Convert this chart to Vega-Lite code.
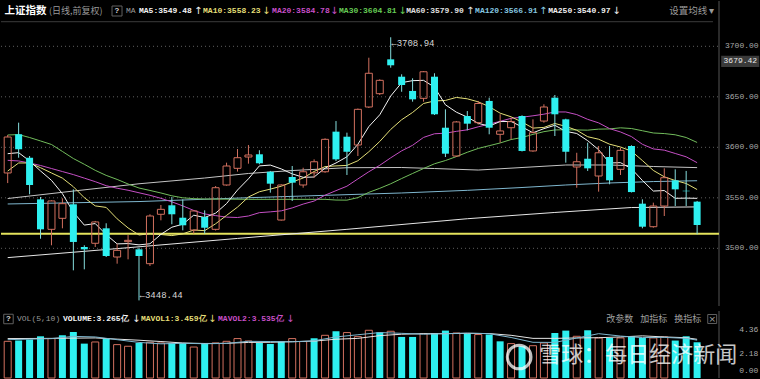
{
"$schema": "https://vega.github.io/schema/vega-lite/v6.json",
"background": "#000000",
"padding": 0,
"spacing": 5,
"bounds": "flush",
"config": {"view": {"stroke": null}, "scale": {"continuousPadding": 0}},
"datasets": {
"k": [
{"i":0,"o":3574.6,"h":3612.2,"l":3564.6,"c":3610.2,"v":3.35,"vd":"up"},
{"i":1,"o":3612.9,"h":3624.4,"l":3589.7,"c":3598.0,"v":3.42,"vd":"down"},
{"i":2,"o":3589.7,"h":3591.4,"l":3553.5,"c":3562.7,"v":3.51,"vd":"down"},
{"i":3,"o":3548.5,"h":3550.8,"l":3509.5,"c":3518.8,"v":3.81,"vd":"down"},
{"i":4,"o":3518.8,"h":3547.5,"l":3503.0,"c":3546.9,"v":3.60,"vd":"up"},
{"i":5,"o":3529.7,"h":3549.5,"l":3519.8,"c":3544.2,"v":3.90,"vd":"down"},
{"i":6,"o":3543.6,"h":3558.4,"l":3478.2,"c":3506.3,"v":4.20,"vd":"down"},
{"i":7,"o":3501.3,"h":3503.0,"l":3479.2,"c":3499.0,"v":3.14,"vd":"down"},
{"i":8,"o":3505.0,"h":3527.1,"l":3501.3,"c":3526.1,"v":3.29,"vd":"up"},
{"i":9,"o":3519.8,"h":3524.8,"l":3491.4,"c":3492.4,"v":3.57,"vd":"down"},
{"i":10,"o":3491.4,"h":3504.6,"l":3484.8,"c":3498.0,"v":3.05,"vd":"up"},
{"i":11,"o":3506.6,"h":3513.2,"l":3489.1,"c":3507.9,"v":2.90,"vd":"up"},
{"i":12,"o":3499.0,"h":3500.6,"l":3448.44,"c":3492.4,"v":3.20,"vd":"down"},
{"i":13,"o":3484.8,"h":3533.7,"l":3482.5,"c":3532.0,"v":3.26,"vd":"up"},
{"i":14,"o":3533.7,"h":3542.9,"l":3527.7,"c":3538.6,"v":3.20,"vd":"up"},
{"i":15,"o":3542.6,"h":3550.8,"l":3523.8,"c":3533.7,"v":3.20,"vd":"down"},
{"i":16,"o":3530.3,"h":3548.5,"l":3517.8,"c":3522.8,"v":3.20,"vd":"down"},
{"i":17,"o":3518.1,"h":3537.6,"l":3514.5,"c":3537.0,"v":2.83,"vd":"up"},
{"i":18,"o":3531.0,"h":3537.6,"l":3514.5,"c":3520.4,"v":3.20,"vd":"down"},
{"i":19,"o":3518.8,"h":3561.7,"l":3517.6,"c":3560.0,"v":3.20,"vd":"up"},
{"i":20,"o":3562.7,"h":3584.8,"l":3562.0,"c":3581.5,"v":3.35,"vd":"up"},
{"i":21,"o":3579.2,"h":3598.3,"l":3576.0,"c":3589.7,"v":3.60,"vd":"up"},
{"i":22,"o":3590.4,"h":3602.3,"l":3583.8,"c":3592.4,"v":3.38,"vd":"up"},
{"i":23,"o":3593.1,"h":3597.1,"l":3583.2,"c":3584.2,"v":3.20,"vd":"down"},
{"i":24,"o":3575.8,"h":3576.6,"l":3555.1,"c":3564.0,"v":3.11,"vd":"down"},
{"i":25,"o":3528.0,"h":3563.4,"l":3527.5,"c":3562.7,"v":3.35,"vd":"down"},
{"i":26,"o":3570.6,"h":3581.5,"l":3546.9,"c":3565.0,"v":3.60,"vd":"up"},
{"i":27,"o":3562.7,"h":3579.8,"l":3560.0,"c":3575.8,"v":3.33,"vd":"up"},
{"i":28,"o":3574.8,"h":3588.1,"l":3569.9,"c":3585.7,"v":3.63,"vd":"down"},
{"i":29,"o":3575.8,"h":3608.9,"l":3574.8,"c":3607.9,"v":3.90,"vd":"up"},
{"i":30,"o":3615.5,"h":3626.0,"l":3586.4,"c":3588.1,"v":4.27,"vd":"down"},
{"i":31,"o":3610.5,"h":3614.5,"l":3572.6,"c":3595.6,"v":4.15,"vd":"up"},
{"i":32,"o":3602.3,"h":3638.4,"l":3591.4,"c":3637.6,"v":3.78,"vd":"up"},
{"i":33,"o":3639.9,"h":3688.7,"l":3638.9,"c":3673.3,"v":4.36,"vd":"up"},
{"i":34,"o":3653.1,"h":3667.3,"l":3651.8,"c":3666.3,"v":4.18,"vd":"down"},
{"i":35,"o":3687.1,"h":3708.94,"l":3678.8,"c":3681.2,"v":4.27,"vd":"up"},
{"i":36,"o":3669.9,"h":3672.3,"l":3655.0,"c":3661.7,"v":3.75,"vd":"down"},
{"i":37,"o":3655.8,"h":3668.3,"l":3645.2,"c":3647.5,"v":3.75,"vd":"down"},
{"i":38,"o":3648.5,"h":3675.5,"l":3645.2,"c":3674.8,"v":4.06,"vd":"up"},
{"i":39,"o":3669.9,"h":3673.3,"l":3632.0,"c":3632.7,"v":4.11,"vd":"down"},
{"i":40,"o":3619.4,"h":3637.6,"l":3590.4,"c":3593.7,"v":4.33,"vd":"down"},
{"i":41,"o":3591.4,"h":3626.0,"l":3590.4,"c":3625.1,"v":4.11,"vd":"up"},
{"i":42,"o":3631.0,"h":3635.9,"l":3616.8,"c":3623.4,"v":4.06,"vd":"down"},
{"i":43,"o":3624.4,"h":3645.9,"l":3622.6,"c":3643.4,"v":3.97,"vd":"up"},
{"i":44,"o":3645.9,"h":3649.1,"l":3612.9,"c":3619.4,"v":3.97,"vd":"down"},
{"i":45,"o":3612.9,"h":3632.7,"l":3604.6,"c":3616.2,"v":3.35,"vd":"down"},
{"i":46,"o":3619.4,"h":3629.3,"l":3607.9,"c":3625.4,"v":3.14,"vd":"up"},
{"i":47,"o":3631.0,"h":3631.7,"l":3595.9,"c":3596.4,"v":2.90,"vd":"down"},
{"i":48,"o":3596.4,"h":3627.7,"l":3595.6,"c":3614.5,"v":2.95,"vd":"up"},
{"i":49,"o":3626.0,"h":3642.6,"l":3624.4,"c":3639.9,"v":3.20,"vd":"up"},
{"i":50,"o":3649.1,"h":3651.8,"l":3611.2,"c":3632.7,"v":4.11,"vd":"down"},
{"i":51,"o":3627.7,"h":3628.3,"l":3584.8,"c":3595.6,"v":4.33,"vd":"down"},
{"i":52,"o":3580.5,"h":3594.6,"l":3560.0,"c":3585.7,"v":3.81,"vd":"up"},
{"i":53,"o":3588.7,"h":3604.6,"l":3576.6,"c":3579.2,"v":4.36,"vd":"down"},
{"i":54,"o":3571.6,"h":3601.3,"l":3556.1,"c":3594.6,"v":3.66,"vd":"up"},
{"i":55,"o":3590.4,"h":3601.3,"l":3563.4,"c":3567.3,"v":3.66,"vd":"down"},
{"i":56,"o":3578.2,"h":3599.6,"l":3572.6,"c":3597.0,"v":3.66,"vd":"up"},
{"i":57,"o":3601.3,"h":3602.0,"l":3555.3,"c":3555.7,"v":3.81,"vd":"down"},
{"i":58,"o":3544.2,"h":3548.5,"l":3519.8,"c":3521.4,"v":3.66,"vd":"down"},
{"i":59,"o":3521.4,"h":3545.2,"l":3520.4,"c":3541.9,"v":3.66,"vd":"up"},
{"i":60,"o":3541.9,"h":3579.2,"l":3532.0,"c":3569.9,"v":3.75,"vd":"up"},
{"i":61,"o":3567.3,"h":3578.2,"l":3541.9,"c":3558.4,"v":3.42,"vd":"down"},
{"i":62,"o":3557.0,"h":3576.6,"l":3541.9,"c":3556.5,"v":3.81,"vd":"down"},
{"i":63,"o":3546.2,"h":3546.9,"l":3513.9,"c":3523.1,"v":3.265,"vd":"down"}
],
"ma": [
{"i":0,"m":"MA250","v":3490.8},{"i":11,"m":"MA250","v":3500.6},{"i":21,"m":"MA250","v":3509.8},{"i":31,"m":"MA250","v":3518.8},{"i":42,"m":"MA250","v":3529.3},{"i":50,"m":"MA250","v":3535.5},{"i":57,"m":"MA250","v":3540.4},{"i":63,"m":"MA250","v":3541.0},
{"i":0,"m":"MA120","v":3543.9},{"i":12,"m":"MA120","v":3546.3},{"i":22,"m":"MA120","v":3550.1},{"i":30,"m":"MA120","v":3552.8},{"i":36,"m":"MA120","v":3554.8},{"i":42,"m":"MA120","v":3557.4},{"i":47,"m":"MA120","v":3560.2},{"i":51,"m":"MA120","v":3562.7},{"i":55,"m":"MA120","v":3564.7},{"i":59,"m":"MA120","v":3566.1},{"i":63,"m":"MA120","v":3566.9},
{"i":0,"m":"MA60","v":3549.3},{"i":6,"m":"MA60","v":3556.7},{"i":12,"m":"MA60","v":3563.9},{"i":18,"m":"MA60","v":3569.6},{"i":22,"m":"MA60","v":3574.1},{"i":26,"m":"MA60","v":3577.0},{"i":31,"m":"MA60","v":3579.8},{"i":36,"m":"MA60","v":3580.0},{"i":39,"m":"MA60","v":3579.0},{"i":43,"m":"MA60","v":3577.5},{"i":47,"m":"MA60","v":3580.0},{"i":51,"m":"MA60","v":3582.5},{"i":55,"m":"MA60","v":3582.5},{"i":59,"m":"MA60","v":3581.0},{"i":63,"m":"MA60","v":3579.9},
{"i":0,"m":"MA30","v":3612.2},{"i":1,"m":"MA30","v":3612.6},{"i":2,"m":"MA30","v":3609.7},{"i":3,"m":"MA30","v":3606.3},{"i":4,"m":"MA30","v":3602.8},{"i":5,"m":"MA30","v":3595.9},{"i":6,"m":"MA30","v":3588.9},{"i":7,"m":"MA30","v":3583.2},{"i":8,"m":"MA30","v":3577.2},{"i":9,"m":"MA30","v":3572.2},{"i":10,"m":"MA30","v":3568.2},{"i":11,"m":"MA30","v":3563.7},{"i":12,"m":"MA30","v":3559.7},{"i":13,"m":"MA30","v":3557.3},{"i":14,"m":"MA30","v":3554.8},{"i":15,"m":"MA30","v":3552.0},{"i":16,"m":"MA30","v":3550.0},{"i":17,"m":"MA30","v":3549.2},{"i":18,"m":"MA30","v":3548.8},{"i":22,"m":"MA30","v":3548.5},{"i":26,"m":"MA30","v":3548.5},{"i":29,"m":"MA30","v":3548.5},{"i":30,"m":"MA30","v":3547.8},{"i":31,"m":"MA30","v":3547.7},{"i":32,"m":"MA30","v":3550.2},{"i":33,"m":"MA30","v":3555.4},{"i":34,"m":"MA30","v":3559.4},{"i":35,"m":"MA30","v":3563.9},{"i":36,"m":"MA30","v":3569.1},{"i":37,"m":"MA30","v":3574.1},{"i":38,"m":"MA30","v":3579.0},{"i":39,"m":"MA30","v":3583.7},{"i":40,"m":"MA30","v":3586.9},{"i":41,"m":"MA30","v":3590.8},{"i":42,"m":"MA30","v":3595.1},{"i":43,"m":"MA30","v":3598.9},{"i":44,"m":"MA30","v":3601.6},{"i":45,"m":"MA30","v":3604.3},{"i":46,"m":"MA30","v":3607.7},{"i":47,"m":"MA30","v":3609.7},{"i":48,"m":"MA30","v":3612.8},{"i":49,"m":"MA30","v":3615.5},{"i":50,"m":"MA30","v":3617.2},{"i":51,"m":"MA30","v":3617.4},{"i":52,"m":"MA30","v":3617.2},{"i":53,"m":"MA30","v":3617.0},{"i":54,"m":"MA30","v":3618.0},{"i":55,"m":"MA30","v":3618.2},{"i":56,"m":"MA30","v":3619.3},{"i":57,"m":"MA30","v":3618.6},{"i":58,"m":"MA30","v":3616.4},{"i":59,"m":"MA30","v":3614.2},{"i":60,"m":"MA30","v":3613.6},{"i":61,"m":"MA30","v":3612.4},{"i":62,"m":"MA30","v":3609.7},{"i":63,"m":"MA30","v":3604.8},
{"i":0,"m":"MA20","v":3587.1},{"i":1,"m":"MA20","v":3586.5},{"i":2,"m":"MA20","v":3584.5},{"i":3,"m":"MA20","v":3582.0},{"i":4,"m":"MA20","v":3579.0},{"i":5,"m":"MA20","v":3576.0},{"i":6,"m":"MA20","v":3573.0},{"i":7,"m":"MA20","v":3569.5},{"i":8,"m":"MA20","v":3566.0},{"i":9,"m":"MA20","v":3562.0},{"i":10,"m":"MA20","v":3559.5},{"i":11,"m":"MA20","v":3557.5},{"i":12,"m":"MA20","v":3555.0},{"i":13,"m":"MA20","v":3552.5},{"i":14,"m":"MA20","v":3549.5},{"i":15,"m":"MA20","v":3546.0},{"i":16,"m":"MA20","v":3542.0},{"i":17,"m":"MA20","v":3537.5},{"i":18,"m":"MA20","v":3534.0},{"i":19,"m":"MA20","v":3532.4},{"i":20,"m":"MA20","v":3530.9},{"i":21,"m":"MA20","v":3530.5},{"i":22,"m":"MA20","v":3532.0},{"i":23,"m":"MA20","v":3535.3},{"i":24,"m":"MA20","v":3536.1},{"i":25,"m":"MA20","v":3537.1},{"i":26,"m":"MA20","v":3540.0},{"i":27,"m":"MA20","v":3543.8},{"i":28,"m":"MA20","v":3546.8},{"i":29,"m":"MA20","v":3552.6},{"i":30,"m":"MA20","v":3557.1},{"i":31,"m":"MA20","v":3561.5},{"i":32,"m":"MA20","v":3568.7},{"i":33,"m":"MA20","v":3575.8},{"i":34,"m":"MA20","v":3582.2},{"i":35,"m":"MA20","v":3589.6},{"i":36,"m":"MA20","v":3596.5},{"i":37,"m":"MA20","v":3602.0},{"i":38,"m":"MA20","v":3609.8},{"i":39,"m":"MA20","v":3613.4},{"i":40,"m":"MA20","v":3614.0},{"i":41,"m":"MA20","v":3615.8},{"i":42,"m":"MA20","v":3617.3},{"i":43,"m":"MA20","v":3620.3},{"i":44,"m":"MA20","v":3623.0},{"i":45,"m":"MA20","v":3625.7},{"i":46,"m":"MA20","v":3628.7},{"i":47,"m":"MA20","v":3629.8},{"i":48,"m":"MA20","v":3631.2},{"i":49,"m":"MA20","v":3632.8},{"i":50,"m":"MA20","v":3635.0},{"i":51,"m":"MA20","v":3635.0},{"i":52,"m":"MA20","v":3632.4},{"i":53,"m":"MA20","v":3627.7},{"i":54,"m":"MA20","v":3624.2},{"i":55,"m":"MA20","v":3618.5},{"i":56,"m":"MA20","v":3615.2},{"i":57,"m":"MA20","v":3610.6},{"i":58,"m":"MA20","v":3603.0},{"i":59,"m":"MA20","v":3598.4},{"i":60,"m":"MA20","v":3597.2},{"i":61,"m":"MA20","v":3593.9},{"i":62,"m":"MA20","v":3590.6},{"i":63,"m":"MA20","v":3584.8},
{"i":0,"m":"MA10","v":3576.5},{"i":1,"m":"MA10","v":3584.5},{"i":2,"m":"MA10","v":3584.5},{"i":3,"m":"MA10","v":3579.8},{"i":4,"m":"MA10","v":3574.6},{"i":5,"m":"MA10","v":3569.5},{"i":6,"m":"MA10","v":3561.0},{"i":7,"m":"MA10","v":3550.1},{"i":8,"m":"MA10","v":3542.0},{"i":9,"m":"MA10","v":3540.5},{"i":10,"m":"MA10","v":3529.2},{"i":11,"m":"MA10","v":3520.2},{"i":12,"m":"MA10","v":3513.2},{"i":13,"m":"MA10","v":3514.5},{"i":14,"m":"MA10","v":3513.7},{"i":15,"m":"MA10","v":3512.6},{"i":16,"m":"MA10","v":3514.3},{"i":17,"m":"MA10","v":3518.1},{"i":18,"m":"MA10","v":3517.5},{"i":19,"m":"MA10","v":3524.3},{"i":20,"m":"MA10","v":3532.6},{"i":21,"m":"MA10","v":3540.8},{"i":22,"m":"MA10","v":3550.8},{"i":23,"m":"MA10","v":3556.0},{"i":24,"m":"MA10","v":3558.6},{"i":25,"m":"MA10","v":3561.5},{"i":26,"m":"MA10","v":3565.7},{"i":27,"m":"MA10","v":3569.6},{"i":28,"m":"MA10","v":3576.1},{"i":29,"m":"MA10","v":3580.9},{"i":30,"m":"MA10","v":3581.6},{"i":31,"m":"MA10","v":3582.1},{"i":32,"m":"MA10","v":3586.7},{"i":33,"m":"MA10","v":3595.6},{"i":34,"m":"MA10","v":3605.8},{"i":35,"m":"MA10","v":3617.7},{"i":36,"m":"MA10","v":3627.3},{"i":37,"m":"MA10","v":3634.5},{"i":38,"m":"MA10","v":3643.4},{"i":39,"m":"MA10","v":3645.9},{"i":40,"m":"MA10","v":3646.4},{"i":41,"m":"MA10","v":3649.4},{"i":42,"m":"MA10","v":3648.0},{"i":43,"m":"MA10","v":3645.0},{"i":44,"m":"MA10","v":3640.3},{"i":45,"m":"MA10","v":3633.8},{"i":46,"m":"MA10","v":3630.2},{"i":47,"m":"MA10","v":3625.0},{"i":48,"m":"MA10","v":3619.0},{"i":49,"m":"MA10","v":3619.7},{"i":50,"m":"MA10","v":3623.6},{"i":51,"m":"MA10","v":3620.7},{"i":52,"m":"MA10","v":3616.9},{"i":53,"m":"MA10","v":3610.5},{"i":54,"m":"MA10","v":3608.0},{"i":55,"m":"MA10","v":3603.1},{"i":56,"m":"MA10","v":3600.3},{"i":57,"m":"MA10","v":3596.2},{"i":58,"m":"MA10","v":3586.9},{"i":59,"m":"MA10","v":3577.1},{"i":60,"m":"MA10","v":3570.8},{"i":61,"m":"MA10","v":3567.1},{"i":62,"m":"MA10","v":3564.2},{"i":63,"m":"MA10","v":3558.2},
{"i":0,"m":"MA5","v":3593.7},{"i":1,"m":"MA5","v":3594.7},{"i":2,"m":"MA5","v":3586.5},{"i":3,"m":"MA5","v":3576.6},{"i":4,"m":"MA5","v":3567.3},{"i":5,"m":"MA5","v":3554.1},{"i":6,"m":"MA5","v":3535.8},{"i":7,"m":"MA5","v":3523.0},{"i":8,"m":"MA5","v":3524.5},{"i":9,"m":"MA5","v":3513.6},{"i":10,"m":"MA5","v":3504.4},{"i":11,"m":"MA5","v":3504.7},{"i":12,"m":"MA5","v":3503.4},{"i":13,"m":"MA5","v":3504.5},{"i":14,"m":"MA5","v":3513.8},{"i":15,"m":"MA5","v":3520.9},{"i":16,"m":"MA5","v":3523.9},{"i":17,"m":"MA5","v":3532.8},{"i":18,"m":"MA5","v":3530.5},{"i":19,"m":"MA5","v":3534.8},{"i":20,"m":"MA5","v":3544.3},{"i":21,"m":"MA5","v":3557.7},{"i":22,"m":"MA5","v":3568.8},{"i":23,"m":"MA5","v":3581.6},{"i":24,"m":"MA5","v":3582.4},{"i":25,"m":"MA5","v":3578.6},{"i":26,"m":"MA5","v":3573.7},{"i":27,"m":"MA5","v":3570.3},{"i":28,"m":"MA5","v":3570.6},{"i":29,"m":"MA5","v":3579.4},{"i":30,"m":"MA5","v":3584.5},{"i":31,"m":"MA5","v":3590.6},{"i":32,"m":"MA5","v":3603.0},{"i":33,"m":"MA5","v":3620.5},{"i":34,"m":"MA5","v":3632.2},{"i":35,"m":"MA5","v":3650.8},{"i":36,"m":"MA5","v":3664.0},{"i":37,"m":"MA5","v":3666.0},{"i":38,"m":"MA5","v":3666.3},{"i":39,"m":"MA5","v":3659.6},{"i":40,"m":"MA5","v":3642.1},{"i":41,"m":"MA5","v":3634.8},{"i":42,"m":"MA5","v":3629.9},{"i":43,"m":"MA5","v":3623.7},{"i":44,"m":"MA5","v":3621.0},{"i":45,"m":"MA5","v":3625.5},{"i":46,"m":"MA5","v":3625.6},{"i":47,"m":"MA5","v":3620.2},{"i":48,"m":"MA5","v":3614.4},{"i":49,"m":"MA5","v":3618.5},{"i":50,"m":"MA5","v":3621.8},{"i":51,"m":"MA5","v":3615.8},{"i":52,"m":"MA5","v":3613.7},{"i":53,"m":"MA5","v":3606.6},{"i":54,"m":"MA5","v":3597.6},{"i":55,"m":"MA5","v":3584.5},{"i":56,"m":"MA5","v":3584.8},{"i":57,"m":"MA5","v":3578.8},{"i":58,"m":"MA5","v":3567.2},{"i":59,"m":"MA5","v":3556.7},{"i":60,"m":"MA5","v":3557.2},{"i":61,"m":"MA5","v":3549.5},{"i":62,"m":"MA5","v":3549.7},{"i":63,"m":"MA5","v":3549.5}
],
"vma": [
{"i":0,"m":"V10","v":3.60},{"i":4,"m":"V10","v":3.62},{"i":8,"m":"V10","v":3.66},{"i":10,"m":"V10","v":3.55},{"i":12,"m":"V10","v":3.45},{"i":14,"m":"V10","v":3.33},{"i":16,"m":"V10","v":3.20},{"i":18,"m":"V10","v":3.15},{"i":20,"m":"V10","v":3.17},{"i":22,"m":"V10","v":3.25},{"i":24,"m":"V10","v":3.26},{"i":26,"m":"V10","v":3.32},{"i":28,"m":"V10","v":3.37},{"i":30,"m":"V10","v":3.54},{"i":32,"m":"V10","v":3.62},{"i":34,"m":"V10","v":3.87},{"i":36,"m":"V10","v":4.00},{"i":38,"m":"V10","v":4.05},{"i":40,"m":"V10","v":4.05},{"i":42,"m":"V10","v":4.08},{"i":44,"m":"V10","v":4.06},{"i":46,"m":"V10","v":3.90},{"i":48,"m":"V10","v":3.62},{"i":50,"m":"V10","v":3.62},{"i":52,"m":"V10","v":3.66},{"i":54,"m":"V10","v":3.68},{"i":56,"m":"V10","v":3.75},{"i":58,"m":"V10","v":3.85},{"i":60,"m":"V10","v":3.75},{"i":62,"m":"V10","v":3.68},{"i":63,"m":"V10","v":3.535},
{"i":0,"m":"V5","v":3.50},{"i":2,"m":"V5","v":3.55},{"i":4,"m":"V5","v":3.60},{"i":6,"m":"V5","v":3.80},{"i":8,"m":"V5","v":3.75},{"i":10,"m":"V5","v":3.50},{"i":12,"m":"V5","v":3.25},{"i":14,"m":"V5","v":3.12},{"i":16,"m":"V5","v":3.17},{"i":18,"m":"V5","v":3.13},{"i":20,"m":"V5","v":3.16},{"i":22,"m":"V5","v":3.35},{"i":24,"m":"V5","v":3.33},{"i":26,"m":"V5","v":3.30},{"i":28,"m":"V5","v":3.40},{"i":30,"m":"V5","v":3.75},{"i":32,"m":"V5","v":3.95},{"i":34,"m":"V5","v":4.15},{"i":36,"m":"V5","v":4.08},{"i":38,"m":"V5","v":4.00},{"i":40,"m":"V5","v":4.05},{"i":42,"m":"V5","v":4.10},{"i":44,"m":"V5","v":4.05},{"i":46,"m":"V5","v":3.70},{"i":48,"m":"V5","v":3.26},{"i":50,"m":"V5","v":3.25},{"i":52,"m":"V5","v":3.65},{"i":54,"m":"V5","v":4.05},{"i":56,"m":"V5","v":3.83},{"i":58,"m":"V5","v":3.69},{"i":60,"m":"V5","v":3.71},{"i":62,"m":"V5","v":3.62},{"i":63,"m":"V5","v":3.459}
],
"pt": [{"t":3500},{"t":3550},{"t":3600},{"t":3650},{"t":3700}],
"vt": [{"t":2.18},{"t":4.36}]
},
"vconcat": [
{
"width": 718,
"height": 305,
"layer": [
{"data": {"values": [{}]}, "mark": {"type": "rule", "color": "#3c3c3c", "strokeWidth": 1},
 "encoding": {"x": {"datum": -0.612, "scale": {"domain": [-0.612, 65.0], "nice": false, "zero": false, "padding": 0}, "axis": null}, "x2": {"datum": 64.45}, "y": {"datum": 3724.35, "scale": {"domain": [3442.9, 3744.85], "nice": false, "zero": false, "padding": 0}, "axis": null}}},
{"data": {"name": "pt"}, "mark": {"type": "rule", "color": "#5e5e5e", "strokeWidth": 1, "strokeDash": [1, 3]},
 "encoding": {"y": {"field": "t", "type": "quantitative", "axis": null}, "x": {"datum": -0.612, "axis": null}, "x2": {"datum": 65.0}}},
{"data": {"name": "pt"}, "mark": {"type": "text", "align": "left", "baseline": "middle", "font": "Liberation Mono", "fontSize": 8, "color": "#a8a8a8"},
 "encoding": {"y": {"field": "t", "type": "quantitative", "axis": null}, "x": {"datum": 65.55, "axis": null}, "text": {"field": "t", "type": "quantitative", "format": ".2f"}}},
{"data": {"values": [{}]}, "mark": {"type": "rule", "color": "#555555", "strokeWidth": 1},
 "encoding": {"x": {"datum": 65.0, "axis": null}, "y": {"datum": 3442.9, "axis": null}, "y2": {"datum": 3744.85}}},
{"data": {"values": [{}]}, "mark": {"type": "rule", "color": "#e4e35c", "strokeWidth": 2},
 "encoding": {"y": {"datum": 3514.5, "axis": null}, "x": {"datum": -0.612, "axis": null}, "x2": {"datum": 65.0}}},
{"data": {"name": "ma"}, "mark": {"type": "line", "strokeWidth": 1},
 "encoding": {
  "x": {"field": "i", "type": "quantitative", "axis": null},
  "y": {"field": "v", "type": "quantitative", "axis": null},
  "color": {"field": "m", "type": "nominal", "legend": null, "scale": {"domain": ["MA250", "MA120", "MA60", "MA30", "MA20", "MA10", "MA5"], "range": ["#e6e6e6", "#7fb7cf", "#c4c4c4", "#72bd5c", "#c44fc4", "#e4df78", "#f4f4f4"]}}}},
{"data": {"name": "k"}, "transform": [{"filter": "datum.c < datum.o"}], "mark": {"type": "rule", "color": "#86dede", "strokeWidth": 1},
 "encoding": {"x": {"field": "i", "type": "quantitative", "axis": null}, "y": {"field": "h", "type": "quantitative", "axis": null}, "y2": {"field": "l"}}},
{"data": {"name": "k"}, "transform": [{"filter": "datum.c >= datum.o"}], "mark": {"type": "rule", "color": "#d2705f", "strokeWidth": 1},
 "encoding": {"x": {"field": "i", "type": "quantitative", "axis": null}, "y": {"field": "h", "type": "quantitative", "axis": null}, "y2": {"field": "c"}}},
{"data": {"name": "k"}, "transform": [{"filter": "datum.c >= datum.o"}], "mark": {"type": "rule", "color": "#d2705f", "strokeWidth": 1},
 "encoding": {"x": {"field": "i", "type": "quantitative", "axis": null}, "y": {"field": "o", "type": "quantitative", "axis": null}, "y2": {"field": "l"}}},
{"data": {"name": "k"}, "transform": [{"filter": "datum.c >= datum.o"}], "mark": {"type": "bar", "filled": false, "stroke": "#d2705f", "strokeWidth": 1, "size": 7},
 "encoding": {"x": {"field": "i", "type": "quantitative", "axis": null}, "y": {"field": "c", "type": "quantitative", "axis": null}, "y2": {"field": "o"}}},
{"data": {"name": "k"}, "transform": [{"filter": "datum.c < datum.o"}], "mark": {"type": "bar", "color": "#2ef0f0", "size": 7},
 "encoding": {"x": {"field": "i", "type": "quantitative", "axis": null}, "y": {"field": "o", "type": "quantitative", "axis": null}, "y2": {"field": "c"}}},
{"data": {"values": [{}]}, "mark": {"type": "text", "align": "left", "baseline": "middle", "font": "Liberation Mono", "fontSize": 9, "color": "#d8d8d8", "text": "←3708.94"},
 "encoding": {"x": {"datum": 35.05, "axis": null}, "y": {"datum": 3703.6, "axis": null}}},
{"data": {"values": [{}]}, "mark": {"type": "text", "align": "left", "baseline": "middle", "font": "Liberation Mono", "fontSize": 9, "color": "#d8d8d8", "text": "←3448.44"},
 "encoding": {"x": {"datum": 12.05, "axis": null}, "y": {"datum": 3453.5, "axis": null}}},
{"data": {"values": [{}]}, "mark": {"type": "rect", "color": "#3a3a3a"},
 "encoding": {"x": {"datum": 65.2, "axis": null}, "x2": {"datum": 68.68}, "y": {"datum": 3690.6, "axis": null}, "y2": {"datum": 3679.4}}},
{"data": {"values": [{}]}, "mark": {"type": "text", "align": "center", "baseline": "middle", "font": "Liberation Mono", "fontSize": 8, "color": "#e8e8e8", "text": "3679.42"},
 "encoding": {"x": {"datum": 66.95, "axis": null}, "y": {"datum": 3685.0, "axis": null}}},
{"data": {"values": [{}]}, "mark": {"type": "text", "align": "left", "baseline": "middle", "font": "Noto Sans CJK SC", "fontSize": 10.5, "fontWeight": "bold", "color": "#ffffff", "text": "上证指数"},
 "encoding": {"x": {"datum": -0.3, "axis": null}, "y": {"datum": 3734.95, "axis": null}}},
{"data": {"values": [{}]}, "mark": {"type": "text", "align": "left", "baseline": "middle", "font": "Noto Sans CJK SC", "fontSize": 9, "color": "#9a9a9a", "text": "(日线,前复权)"},
 "encoding": {"x": {"datum": 3.78, "axis": null}, "y": {"datum": 3734.95, "axis": null}}},
{"data": {"values": [{}]}, "mark": {"type": "point", "shape": "square", "filled": false, "size": 100, "stroke": "#8a8a8a", "strokeWidth": 1},
 "encoding": {"x": {"datum": 9.99, "axis": null}, "y": {"datum": 3734.95, "axis": null}}},
{"data": {"values": [{}]}, "mark": {"type": "text", "align": "center", "baseline": "middle", "font": "Liberation Mono", "fontSize": 8, "fontWeight": "bold", "color": "#d0d0d0", "text": "?"},
 "encoding": {"x": {"datum": 9.99, "axis": null}, "y": {"datum": 3734.95, "axis": null}}},
{"data": {"values": [{}]}, "mark": {"type": "text", "align": "left", "baseline": "middle", "font": "Liberation Mono", "fontSize": 8, "color": "#9a9a9a", "text": "MA"},
 "encoding": {"x": {"datum": 10.81, "axis": null}, "y": {"datum": 3734.95, "axis": null}}},
{"data": {"values": [{}]}, "mark": {"type": "text", "align": "left", "baseline": "middle", "font": "Liberation Mono", "fontSize": 8, "fontWeight": "bold", "color": "#f4f4f4", "text": "MA5:3549.48"},
 "encoding": {"x": {"datum": 12.0, "axis": null}, "y": {"datum": 3734.95, "axis": null}}},
{"data": {"values": [{}]}, "mark": {"type": "text", "align": "left", "baseline": "middle", "font": "DejaVu Sans", "fontSize": 10, "color": "#f4f4f4", "text": "↑"},
 "encoding": {"x": {"datum": 17.03, "axis": null}, "y": {"datum": 3734.95, "axis": null}}},
{"data": {"values": [{}]}, "mark": {"type": "text", "align": "left", "baseline": "middle", "font": "Liberation Mono", "fontSize": 8, "fontWeight": "bold", "color": "#e4df78", "text": "MA10:3558.23"},
 "encoding": {"x": {"datum": 17.85, "axis": null}, "y": {"datum": 3734.95, "axis": null}}},
{"data": {"values": [{}]}, "mark": {"type": "text", "align": "left", "baseline": "middle", "font": "DejaVu Sans", "fontSize": 10, "color": "#e4df78", "text": "↓"},
 "encoding": {"x": {"datum": 23.25, "axis": null}, "y": {"datum": 3734.95, "axis": null}}},
{"data": {"values": [{}]}, "mark": {"type": "text", "align": "left", "baseline": "middle", "font": "Liberation Mono", "fontSize": 8, "fontWeight": "bold", "color": "#c84fc8", "text": "MA20:3584.78"},
 "encoding": {"x": {"datum": 24.16, "axis": null}, "y": {"datum": 3734.95, "axis": null}}},
{"data": {"values": [{}]}, "mark": {"type": "text", "align": "left", "baseline": "middle", "font": "DejaVu Sans", "fontSize": 10, "color": "#c84fc8", "text": "↓"},
 "encoding": {"x": {"datum": 29.46, "axis": null}, "y": {"datum": 3734.95, "axis": null}}},
{"data": {"values": [{}]}, "mark": {"type": "text", "align": "left", "baseline": "middle", "font": "Liberation Mono", "fontSize": 8, "fontWeight": "bold", "color": "#66cc55", "text": "MA30:3604.81"},
 "encoding": {"x": {"datum": 30.28, "axis": null}, "y": {"datum": 3734.95, "axis": null}}},
{"data": {"values": [{}]}, "mark": {"type": "text", "align": "left", "baseline": "middle", "font": "DejaVu Sans", "fontSize": 10, "color": "#66cc55", "text": "↓"},
 "encoding": {"x": {"datum": 35.68, "axis": null}, "y": {"datum": 3734.95, "axis": null}}},
{"data": {"values": [{}]}, "mark": {"type": "text", "align": "left", "baseline": "middle", "font": "Liberation Mono", "fontSize": 8, "fontWeight": "bold", "color": "#e0e0e0", "text": "MA60:3579.90"},
 "encoding": {"x": {"datum": 36.41, "axis": null}, "y": {"datum": 3734.95, "axis": null}}},
{"data": {"values": [{}]}, "mark": {"type": "text", "align": "left", "baseline": "middle", "font": "DejaVu Sans", "fontSize": 10, "color": "#e0e0e0", "text": "↑"},
 "encoding": {"x": {"datum": 41.89, "axis": null}, "y": {"datum": 3734.95, "axis": null}}},
{"data": {"values": [{}]}, "mark": {"type": "text", "align": "left", "baseline": "middle", "font": "Liberation Mono", "fontSize": 8, "fontWeight": "bold", "color": "#86c8e0", "text": "MA120:3566.91"},
 "encoding": {"x": {"datum": 42.71, "axis": null}, "y": {"datum": 3734.95, "axis": null}}},
{"data": {"values": [{}]}, "mark": {"type": "text", "align": "left", "baseline": "middle", "font": "DejaVu Sans", "fontSize": 10, "color": "#86c8e0", "text": "↑"},
 "encoding": {"x": {"datum": 48.56, "axis": null}, "y": {"datum": 3734.95, "axis": null}}},
{"data": {"values": [{}]}, "mark": {"type": "text", "align": "left", "baseline": "middle", "font": "Liberation Mono", "fontSize": 8, "fontWeight": "bold", "color": "#f0f0f0", "text": "MA250:3540.97"},
 "encoding": {"x": {"datum": 49.39, "axis": null}, "y": {"datum": 3734.95, "axis": null}}},
{"data": {"values": [{}]}, "mark": {"type": "text", "align": "left", "baseline": "middle", "font": "DejaVu Sans", "fontSize": 10, "color": "#f0f0f0", "text": "↓"},
 "encoding": {"x": {"datum": 55.24, "axis": null}, "y": {"datum": 3734.95, "axis": null}}},
{"data": {"values": [{}]}, "mark": {"type": "text", "align": "left", "baseline": "middle", "font": "Noto Sans CJK SC", "fontSize": 9.5, "color": "#9a9a9a", "text": "设置均线 ▾"},
 "encoding": {"x": {"datum": 60.45, "axis": null}, "y": {"datum": 3734.95, "axis": null}}}
]
},
{
"width": 718,
"height": 67,
"layer": [
{"data": {"name": "k"}, "transform": [{"filter": "datum.vd == 'down'"}], "mark": {"type": "bar", "color": "#2ef0f0", "size": 7},
 "encoding": {
  "x": {"field": "i", "type": "quantitative", "scale": {"domain": [-0.612, 65.0], "nice": false, "zero": false, "padding": 0}, "axis": null},
  "y": {"field": "v", "type": "quantitative", "scale": {"domain": [0, 6.12], "nice": false, "zero": false, "padding": 0}, "axis": null},
  "y2": {"datum": 0}}},
{"data": {"name": "k"}, "transform": [{"filter": "datum.vd == 'up'"}], "mark": {"type": "bar", "filled": false, "stroke": "#d2705f", "strokeWidth": 1, "size": 7},
 "encoding": {"x": {"field": "i", "type": "quantitative", "axis": null}, "y": {"field": "v", "type": "quantitative", "axis": null}, "y2": {"datum": 0}}},
{"data": {"name": "vma"}, "mark": {"type": "line", "strokeWidth": 1},
 "encoding": {"x": {"field": "i", "type": "quantitative", "axis": null}, "y": {"field": "v", "type": "quantitative", "axis": null},
  "color": {"field": "m", "type": "nominal", "legend": null, "scale": {"domain": ["V10", "V5"], "range": ["#c050c0", "#efe6c4"]}}}},
{"data": {"values": [{}]}, "mark": {"type": "rule", "color": "#555555", "strokeWidth": 1},
 "encoding": {"x": {"datum": 65.0, "axis": null}, "y": {"datum": 0, "axis": null}, "y2": {"datum": 6.12}}},
{"data": {"name": "vt"}, "mark": {"type": "text", "align": "right", "baseline": "middle", "font": "Liberation Mono", "fontSize": 8, "color": "#a8a8a8"},
 "encoding": {"y": {"field": "t", "type": "quantitative", "axis": null}, "x": {"datum": 68.6, "axis": null}, "text": {"field": "t", "type": "quantitative", "format": ".2f"}}},
{"data": {"values": [{}]}, "mark": {"type": "text", "align": "right", "baseline": "middle", "font": "Liberation Mono", "fontSize": 8, "color": "#a8a8a8", "text": "0.00"},
 "encoding": {"x": {"datum": 68.6, "axis": null}, "y": {"datum": 0.65, "axis": null}}},
{"data": {"values": [{}]}, "mark": {"type": "point", "shape": "square", "filled": false, "size": 90, "stroke": "#8a8a8a", "strokeWidth": 1},
 "encoding": {"x": {"datum": 0.07, "axis": null}, "y": {"datum": 5.39, "axis": null}}},
{"data": {"values": [{}]}, "mark": {"type": "text", "align": "center", "baseline": "middle", "font": "Liberation Mono", "fontSize": 8, "fontWeight": "bold", "color": "#d0d0d0", "text": "?"},
 "encoding": {"x": {"datum": 0.07, "axis": null}, "y": {"datum": 5.39, "axis": null}}},
{"data": {"values": [{}]}, "mark": {"type": "text", "align": "left", "baseline": "middle", "font": "Liberation Mono", "fontSize": 8, "color": "#9a9a9a", "text": "VOL(5,10)"},
 "encoding": {"x": {"datum": 0.85, "axis": null}, "y": {"datum": 5.39, "axis": null}}},
{"data": {"values": [{}]}, "mark": {"type": "text", "align": "left", "baseline": "middle", "font": "Liberation Mono", "fontSize": 8, "fontWeight": "bold", "color": "#f4f4f4", "text": "VOLUME:3.265亿"},
 "encoding": {"x": {"datum": 5.05, "axis": null}, "y": {"datum": 5.39, "axis": null}}},
{"data": {"values": [{}]}, "mark": {"type": "text", "align": "left", "baseline": "middle", "font": "DejaVu Sans", "fontSize": 10, "color": "#f4f4f4", "text": "↓"},
 "encoding": {"x": {"datum": 11.36, "axis": null}, "y": {"datum": 5.39, "axis": null}}},
{"data": {"values": [{}]}, "mark": {"type": "text", "align": "left", "baseline": "middle", "font": "Liberation Mono", "fontSize": 8, "fontWeight": "bold", "color": "#e4df78", "text": "MAVOL1:3.459亿"},
 "encoding": {"x": {"datum": 12.18, "axis": null}, "y": {"datum": 5.39, "axis": null}}},
{"data": {"values": [{}]}, "mark": {"type": "text", "align": "left", "baseline": "middle", "font": "DejaVu Sans", "fontSize": 10, "color": "#e4df78", "text": "↓"},
 "encoding": {"x": {"datum": 18.31, "axis": null}, "y": {"datum": 5.39, "axis": null}}},
{"data": {"values": [{}]}, "mark": {"type": "text", "align": "left", "baseline": "middle", "font": "Liberation Mono", "fontSize": 8, "fontWeight": "bold", "color": "#c84fc8", "text": "MAVOL2:3.535亿"},
 "encoding": {"x": {"datum": 19.22, "axis": null}, "y": {"datum": 5.39, "axis": null}}},
{"data": {"values": [{}]}, "mark": {"type": "text", "align": "left", "baseline": "middle", "font": "DejaVu Sans", "fontSize": 10, "color": "#c84fc8", "text": "↓"},
 "encoding": {"x": {"datum": 25.44, "axis": null}, "y": {"datum": 5.39, "axis": null}}},
{"data": {"values": [{}]}, "mark": {"type": "text", "align": "left", "baseline": "middle", "font": "Noto Sans CJK SC", "fontSize": 9, "color": "#a0a0a0", "text": "改参数"},
 "encoding": {"x": {"datum": 54.69, "axis": null}, "y": {"datum": 5.39, "axis": null}}},
{"data": {"values": [{}]}, "mark": {"type": "text", "align": "left", "baseline": "middle", "font": "Noto Sans CJK SC", "fontSize": 9, "color": "#a0a0a0", "text": "加指标"},
 "encoding": {"x": {"datum": 57.8, "axis": null}, "y": {"datum": 5.39, "axis": null}}},
{"data": {"values": [{}]}, "mark": {"type": "text", "align": "left", "baseline": "middle", "font": "Noto Sans CJK SC", "fontSize": 9, "color": "#a0a0a0", "text": "换指标"},
 "encoding": {"x": {"datum": 60.9, "axis": null}, "y": {"datum": 5.39, "axis": null}}},
{"data": {"values": [{}]}, "mark": {"type": "point", "shape": "square", "filled": false, "size": 80, "stroke": "#8a8a8a", "strokeWidth": 1},
 "encoding": {"x": {"datum": 64.38, "axis": null}, "y": {"datum": 5.39, "axis": null}}},
{"data": {"values": [{}]}, "mark": {"type": "text", "align": "center", "baseline": "middle", "font": "DejaVu Sans", "fontSize": 9, "color": "#a0a0a0", "text": "×"},
 "encoding": {"x": {"datum": 64.38, "axis": null}, "y": {"datum": 5.39, "axis": null}}},
{"data": {"values": [{}]}, "mark": {"type": "point", "shape": "circle", "filled": false, "size": 560, "stroke": "#ffffff", "strokeWidth": 3, "opacity": 0.75},
 "encoding": {"x": {"datum": 46.74, "axis": null}, "y": {"datum": 1.92, "axis": null}}},
{"data": {"values": [{}]}, "mark": {"type": "text", "align": "left", "baseline": "middle", "font": "Noto Sans CJK SC", "fontSize": 22, "color": "#ffffff", "opacity": 0.78, "text": "雪球：每日经济新闻"},
 "encoding": {"x": {"datum": 48.57, "axis": null}, "y": {"datum": 2.1, "axis": null}}}
]
}
]
}
